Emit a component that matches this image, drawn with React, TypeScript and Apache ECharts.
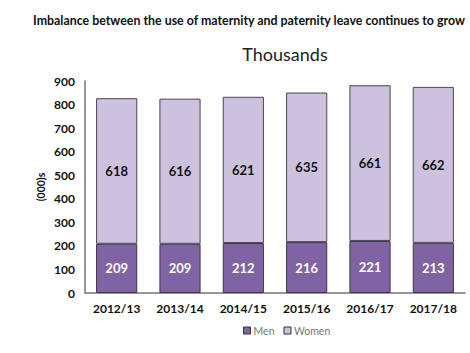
import React, { useEffect, useRef } from "react";
import * as echarts from "echarts";

const categories = ["2012/13", "2013/14", "2014/15", "2015/16", "2016/17", "2017/18"];
const men = [209, 209, 212, 216, 221, 213];
const women = [618, 616, 621, 635, 661, 662];

export default function App() {
  const ref = useRef<HTMLDivElement>(null);
  useEffect(() => {
    const chart = echarts.init(ref.current!, null, { renderer: "svg" });
    const font = "Lato, 'Open Sans', sans-serif";
    chart.setOption({
      animation: false,
      backgroundColor: "#ffffff",
      title: [
        {
          text: "Imbalance between the use of maternity and paternity leave continues to grow",
          left: 244,
          top: 9,
          textAlign: "center",
          textStyle: { fontFamily: font, fontSize: 12.4, fontWeight: "bold", color: "#111" },
        },
        {
          text: "Thousands",
          left: 280,
          top: 40,
          textAlign: "center",
          textStyle: { fontFamily: font, fontSize: 18, fontWeight: "normal", color: "#222" },
        },
      ],
      legend: {
        bottom: 12,
        left: 238,
        itemWidth: 7,
        itemHeight: 7,
        itemGap: 9,
        icon: "rect",
        textStyle: { fontFamily: font, fontSize: 10.5, color: "#777", padding: [0, 0, 0, -2] },
        data: [
          { name: "Men", itemStyle: { borderColor: "#333", borderWidth: 1 } },
          { name: "Women", itemStyle: { borderColor: "#333", borderWidth: 1 } },
        ],
      },
      grid: { left: 85, right: 5, top: 81, bottom: 60 },
      xAxis: {
        type: "category",
        data: categories,
        axisLine: { lineStyle: { color: "#777", width: 1.5 } },
        axisTick: { show: false },
        axisLabel: { fontFamily: font, fontSize: 12, fontWeight: "bold", color: "#111", margin: 9 },
      },
      yAxis: {
        type: "value",
        min: 0,
        max: 900,
        interval: 100,
        name: "(000)s",
        nameLocation: "middle",
        nameRotate: 90,
        nameGap: 39,
        nameMoveOverlap: false,
        nameTextStyle: { fontFamily: font, fontSize: 10.5, fontWeight: "bold", color: "#111" },
        axisLine: { show: true, lineStyle: { color: "#777", width: 1.5 } },
        axisTick: { show: false },
        splitLine: { show: false },
        axisLabel: { fontFamily: font, fontSize: 12, fontWeight: "bold", color: "#111", margin: 10 },
      },
      series: [
        {
          name: "Men",
          type: "bar",
          stack: "t",
          data: men,
          barWidth: "65%",
          itemStyle: { color: "#7f63a3", borderColor: "#3d3548", borderWidth: 1 },
          label: {
            show: true,
            position: "inside",
            fontFamily: font,
            fontSize: 13,
            fontWeight: "bold",
            color: "#ffffff",
          },
        },
        {
          name: "Women",
          type: "bar",
          stack: "t",
          data: women,
          barWidth: "65%",
          itemStyle: { color: "#cdc2de", borderColor: "#4a4552", borderWidth: 1 },
          label: {
            show: true,
            position: "inside",
            fontFamily: font,
            fontSize: 13,
            fontWeight: "bold",
            color: "#111111",
          },
        },
      ],
    });
    return () => chart.dispose();
  }, []);
  return <div ref={ref} style={{ width: 470, height: 353, position: "absolute", left: 0, top: 0 }} />;
}
